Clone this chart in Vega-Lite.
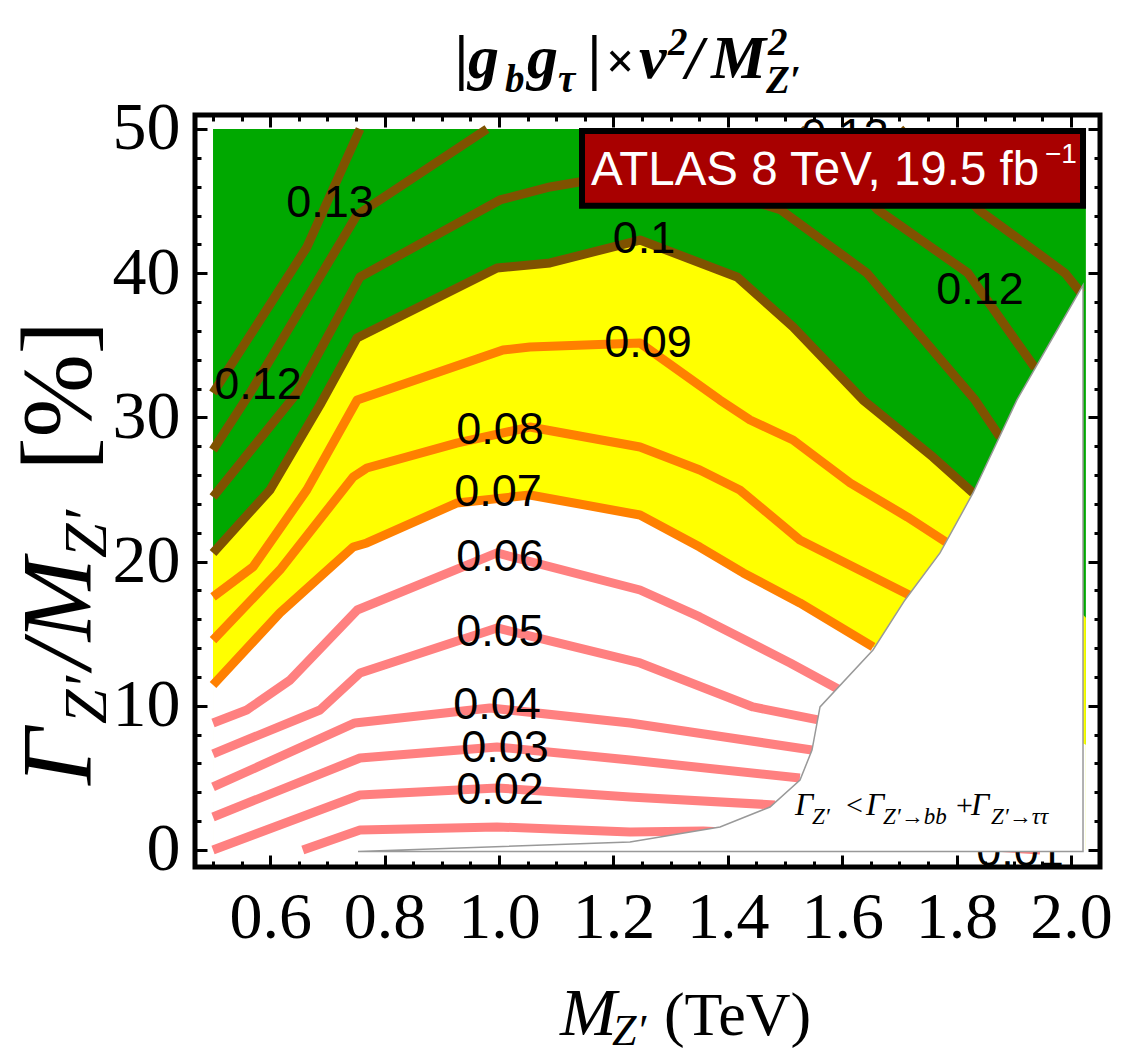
{
"$schema":"https://vega.github.io/schema/vega-lite/v6.json",
"width":905,"height":752,"autosize":"none",
"padding":{"left":195,"top":115,"right":32,"bottom":189},
"background":"white",
"config":{"view":{"stroke":"black","strokeWidth":5}},
"data":{"values":[{"one":1}]},
"datasets":{
"lines":[
{"level":"0.01","seg":"0.01","x":0.657,"y":0},{"level":"0.01","seg":"0.01","x":0.757,"y":1.39},{"level":"0.01","seg":"0.01","x":0.9965,"y":1.6},{"level":"0.01","seg":"0.01","x":1.229,"y":1.25},{"level":"0.01","seg":"0.01","x":1.357,"y":1.32},{"level":"0.01","seg":"0.01","x":1.526,"y":0.97},{"level":"0.01","seg":"0.01","x":1.7465,"y":0.49},{"level":"0.01","seg":"0.01","x":1.946,"y":0},
{"level":"0.02","seg":"0.02","x":0.5,"y":0},{"level":"0.02","seg":"0.02","x":0.757,"y":3.81},{"level":"0.02","seg":"0.02","x":0.9965,"y":4.3},{"level":"0.02","seg":"0.02","x":1.229,"y":3.68},{"level":"0.02","seg":"0.02","x":1.4825,"y":3.12},
{"level":"0.03","seg":"0.03","x":0.5,"y":2.29},{"level":"0.03","seg":"0.03","x":0.757,"y":6.38},{"level":"0.03","seg":"0.03","x":0.9965,"y":7.14},{"level":"0.03","seg":"0.03","x":1.229,"y":6.24},{"level":"0.03","seg":"0.03","x":1.526,"y":4.99},
{"level":"0.04","seg":"0.04","x":0.5,"y":4.37},{"level":"0.04","seg":"0.04","x":0.748,"y":8.81},{"level":"0.04","seg":"0.04","x":0.984,"y":9.85},{"level":"0.04","seg":"0.04","x":1.229,"y":8.81},{"level":"0.04","seg":"0.04","x":1.547,"y":6.93},
{"level":"0.05","seg":"0.05","x":0.5,"y":6.66},{"level":"0.05","seg":"0.05","x":0.559,"y":7.63},{"level":"0.05","seg":"0.05","x":0.687,"y":9.71},{"level":"0.05","seg":"0.05","x":0.757,"y":12.27},{"level":"0.05","seg":"0.05","x":0.9965,"y":15.4},{"level":"0.05","seg":"0.05","x":1.2465,"y":12.97},{"level":"0.05","seg":"0.05","x":1.444,"y":9.92},{"level":"0.05","seg":"0.05","x":1.558,"y":9.02},
{"level":"0.06","seg":"0.06","x":0.5,"y":8.81},{"level":"0.06","seg":"0.06","x":0.559,"y":9.71},{"level":"0.06","seg":"0.06","x":0.635,"y":11.79},{"level":"0.06","seg":"0.06","x":0.752,"y":16.64},{"level":"0.06","seg":"0.06","x":0.9965,"y":20.6},{"level":"0.06","seg":"0.06","x":1.2465,"y":18.03},{"level":"0.06","seg":"0.06","x":1.351,"y":16.16},{"level":"0.06","seg":"0.06","x":1.509,"y":12.97},{"level":"0.06","seg":"0.06","x":1.596,"y":11.1},
{"level":"0.07","seg":"0.07","x":0.5,"y":11.44},{"level":"0.07","seg":"0.07","x":0.617,"y":16.44},{"level":"0.07","seg":"0.07","x":0.745,"y":21.01},{"level":"0.07","seg":"0.07","x":0.769,"y":21.29},{"level":"0.07","seg":"0.07","x":0.926,"y":24.06},{"level":"0.07","seg":"0.07","x":1.054,"y":24.62},{"level":"0.07","seg":"0.07","x":1.2465,"y":23.23},{"level":"0.07","seg":"0.07","x":1.351,"y":21.01},{"level":"0.07","seg":"0.07","x":1.427,"y":19.21},{"level":"0.07","seg":"0.07","x":1.526,"y":17.13},{"level":"0.07","seg":"0.07","x":1.654,"y":14.08},
{"level":"0.08","seg":"0.08","x":0.5,"y":14.56},{"level":"0.08","seg":"0.08","x":0.617,"y":19.42},{"level":"0.08","seg":"0.08","x":0.745,"y":25.87},{"level":"0.08","seg":"0.08","x":0.769,"y":26.49},{"level":"0.08","seg":"0.08","x":0.926,"y":28.22},{"level":"0.08","seg":"0.08","x":1.054,"y":29.33},{"level":"0.08","seg":"0.08","x":1.2465,"y":27.95},{"level":"0.08","seg":"0.08","x":1.351,"y":26.35},{"level":"0.08","seg":"0.08","x":1.421,"y":24.97},{"level":"0.08","seg":"0.08","x":1.526,"y":21.5},{"level":"0.08","seg":"0.08","x":1.724,"y":17.55},
{"level":"0.09","seg":"0.09","x":0.5,"y":17.55},{"level":"0.09","seg":"0.09","x":0.57,"y":19.63},{"level":"0.09","seg":"0.09","x":0.664,"y":24.97},{"level":"0.09","seg":"0.09","x":0.752,"y":31.21},{"level":"0.09","seg":"0.09","x":1.007,"y":34.67},{"level":"0.09","seg":"0.09","x":1.054,"y":34.88},{"level":"0.09","seg":"0.09","x":1.2465,"y":35.16},{"level":"0.09","seg":"0.09","x":1.386,"y":31.21},{"level":"0.09","seg":"0.09","x":1.439,"y":29.82},{"level":"0.09","seg":"0.09","x":1.514,"y":28.43},{"level":"0.09","seg":"0.09","x":1.614,"y":25.45},{"level":"0.09","seg":"0.09","x":1.714,"y":23.09},{"level":"0.09","seg":"0.09","x":1.784,"y":21.29},
{"level":"0.1","seg":"0.1","x":0.5,"y":20.6},{"level":"0.1","seg":"0.1","x":0.5996,"y":24.97},{"level":"0.1","seg":"0.1","x":0.687,"y":30.86},{"level":"0.1","seg":"0.1","x":0.7517,"y":35.51},{"level":"0.1","seg":"0.1","x":0.9965,"y":40.36},{"level":"0.1","seg":"0.1","x":1.0891,"y":40.71},{"level":"0.1","seg":"0.1","x":1.2465,"y":42.3},{"level":"0.1","seg":"0.1","x":1.4161,"y":39.74},{"level":"0.1","seg":"0.1","x":1.514,"y":36.27},{"level":"0.1","seg":"0.1","x":1.6363,"y":31.21},{"level":"0.1","seg":"0.1","x":1.7587,"y":27.25},{"level":"0.1","seg":"0.1","x":1.8287,"y":24.76},
{"level":"0.11","seg":"0.11","x":0.5,"y":24.48},{"level":"0.11","seg":"0.11","x":0.6468,"y":31.69},{"level":"0.11","seg":"0.11","x":0.757,"y":39.74},{"level":"0.11","seg":"0.11","x":1.0017,"y":45.08},{"level":"0.11","seg":"0.11","x":1.0891,"y":45.98},{"level":"0.11","seg":"0.11","x":1.2115,"y":46.81},{"level":"0.11","seg":"0.11","x":1.3514,"y":46.12},{"level":"0.11","seg":"0.11","x":1.493,"y":44.38},{"level":"0.11","seg":"0.11","x":1.6433,"y":40.01},{"level":"0.11","seg":"0.11","x":1.8322,"y":31.21},{"level":"0.11","seg":"0.11","x":1.8759,"y":28.64},
{"level":"0.12","seg":"0.12L","x":0.5,"y":27.74},{"level":"0.12","seg":"0.12L","x":0.5647,"y":31.69},{"level":"0.12","seg":"0.12L","x":0.7517,"y":44.04},{"level":"0.12","seg":"0.12L","x":0.979,"y":50},
{"level":"0.12","seg":"0.12R","x":1.5262,"y":50},{"level":"0.12","seg":"0.12R","x":1.6626,"y":44.38},{"level":"0.12","seg":"0.12R","x":1.8199,"y":40.01},{"level":"0.12","seg":"0.12R","x":1.9371,"y":33.43},
{"level":"0.13","seg":"0.13L","x":0.5,"y":31.69},{"level":"0.13","seg":"0.13L","x":0.6643,"y":41.82},{"level":"0.13","seg":"0.13L","x":0.757,"y":50},
{"level":"0.13","seg":"0.13R","x":1.701,"y":50},{"level":"0.13","seg":"0.13R","x":1.8391,"y":44.38},{"level":"0.13","seg":"0.13R","x":1.9895,"y":40.01},{"level":"0.13","seg":"0.13R","x":2.018,"y":38.6}
],
"fill10":[{"x":0.5,"y":20.6},{"x":0.5996,"y":24.97},{"x":0.687,"y":30.86},{"x":0.7517,"y":35.51},{"x":0.9965,"y":40.36},{"x":1.0891,"y":40.71},{"x":1.2465,"y":42.3},{"x":1.4161,"y":39.74},{"x":1.514,"y":36.27},{"x":1.6363,"y":31.21},{"x":1.7587,"y":27.25},{"x":1.8287,"y":24.76},{"x":2.026,"y":16.1}],
"fill07":[{"x":0.5,"y":11.44},{"x":0.617,"y":16.44},{"x":0.745,"y":21.01},{"x":0.769,"y":21.29},{"x":0.926,"y":24.06},{"x":1.054,"y":24.62},{"x":1.2465,"y":23.23},{"x":1.351,"y":21.01},{"x":1.427,"y":19.21},{"x":1.526,"y":17.13},{"x":1.654,"y":14.08},{"x":2.026,"y":7.3}],
"labels":[{"x":0.7045,"y":44.87,"t":"0.13"},{"x":0.5786,"y":32.25,"t":"0.12"},{"x":1.2535,"y":42.37,"t":"0.1"},{"x":1.841,"y":38.83,"t":"0.12"},{"x":1.2605,"y":35.16,"t":"0.09"},{"x":1.0017,"y":29.13,"t":"0.08"},{"x":0.9982,"y":24.83,"t":"0.07"},{"x":1.0017,"y":20.32,"t":"0.06"},{"x":1.0017,"y":15.12,"t":"0.05"},{"x":0.9965,"y":10.06,"t":"0.04"},{"x":1.0105,"y":7.07,"t":"0.03"},{"x":1.0017,"y":4.16,"t":"0.02"},{"x":1.605,"y":49.5,"t":"0.13"},{"x":1.911,"y":-0.14,"t":"0.01"}],
"excl":[{"x":0.7535,"y":-0.1},{"x":1.229,"y":0.55},{"x":1.3864,"y":1.6},{"x":1.4738,"y":2.98},{"x":1.5262,"y":4.85},{"x":1.5472,"y":6.93},{"x":1.5612,"y":9.92},{"x":1.6538,"y":13.87},{"x":1.7098,"y":17.34},{"x":1.771,"y":20.6},{"x":1.8287,"y":24.76},{"x":1.9055,"y":31.21},{"x":2.021,"y":39.18}]
},
"resolve":{"axis":{"x":"independent","y":"independent"}},
"layer":[
{"mark":{"type":"rect","color":"#00A800"},
 "encoding":{"x":{"datum":0.5,"type":"quantitative","scale":{"domain":[0.4685,2.0507],"nice":false,"zero":false},"axis":null},"x2":{"datum":2.026},
 "y":{"datum":0,"type":"quantitative","scale":{"domain":[-1.18,50.97],"nice":false,"zero":false},"axis":null},"y2":{"datum":50}}},
{"data":{"name":"fill10"},"mark":{"type":"area","color":"#FFFF00"},
 "encoding":{"x":{"field":"x","type":"quantitative","scale":{"domain":[0.4685,2.0507],"nice":false,"zero":false},
   "axis":{"orient":"bottom","values":[0.5,0.55,0.6,0.65,0.7,0.75,0.8,0.85,0.9,0.95,1,1.05,1.1,1.15,1.2,1.25,1.3,1.35,1.4,1.45,1.5,1.55,1.6,1.65,1.7,1.75,1.8,1.85,1.9,1.95,2],
   "labelExpr":"round(datum.value*20)%4==0 ? format(datum.value,'.1f') : ''",
   "tickSize":{"condition":{"test":"round(datum.value*20)%4==0","value":-12},"value":-6},
   "tickWidth":3,"tickColor":"black","domain":false,"grid":false,"labelFont":"Liberation Serif","labelFontSize":66,"labelColor":"black","labelPadding":30,"labelOverlap":false,"labelFlush":false,"labelBound":false,"title":null}},
  "y":{"field":"y","type":"quantitative","scale":{"domain":[-1.18,50.97],"nice":false,"zero":false},
   "axis":{"orient":"left","values":[0,2,4,6,8,10,12,14,16,18,20,22,24,26,28,30,32,34,36,38,40,42,44,46,48,50],
   "labelExpr":"datum.value%10==0 ? datum.label : ''",
   "tickSize":{"condition":{"test":"datum.value%10==0","value":-12},"value":-6},
   "tickWidth":3,"tickColor":"black","domain":false,"grid":false,"labelFont":"Liberation Serif","labelFontSize":68,"labelColor":"black","labelPadding":27,"labelOverlap":false,"labelFlush":false,"labelBound":false,"title":null}},
  "y2":{"datum":0}}},
{"data":{"name":"fill07"},"mark":{"type":"area","color":"#FFFFFF"},
 "encoding":{"x":{"field":"x","type":"quantitative","scale":{"domain":[0.4685,2.0507],"nice":false,"zero":false},
   "axis":{"orient":"top","values":[0.5,0.55,0.6,0.65,0.7,0.75,0.8,0.85,0.9,0.95,1,1.05,1.1,1.15,1.2,1.25,1.3,1.35,1.4,1.45,1.5,1.55,1.6,1.65,1.7,1.75,1.8,1.85,1.9,1.95,2],
   "labels":false,"tickSize":{"condition":{"test":"round(datum.value*20)%4==0","value":-12},"value":-6},"tickWidth":3,"tickColor":"black","domain":false,"grid":false,"title":null}},
  "y":{"field":"y","type":"quantitative","scale":{"domain":[-1.18,50.97],"nice":false,"zero":false},
   "axis":{"orient":"right","values":[0,2,4,6,8,10,12,14,16,18,20,22,24,26,28,30,32,34,36,38,40,42,44,46,48,50],
   "labels":false,"tickSize":{"condition":{"test":"datum.value%10==0","value":-12},"value":-6},"tickWidth":3,"tickColor":"black","domain":false,"grid":false,"title":null}},
  "y2":{"datum":0}}},
{"data":{"name":"lines"},"mark":{"type":"line","strokeWidth":9,"strokeCap":"butt","strokeJoin":"round"},
 "encoding":{"x":{"field":"x","type":"quantitative","scale":{"domain":[0.4685,2.0507],"nice":false,"zero":false},"axis":null},
  "y":{"field":"y","type":"quantitative","scale":{"domain":[-1.18,50.97],"nice":false,"zero":false},"axis":null},
  "detail":{"field":"seg"},
  "color":{"field":"level","type":"nominal","legend":null,"scale":{"domain":["0.01","0.02","0.03","0.04","0.05","0.06","0.07","0.08","0.09","0.1","0.11","0.12","0.13"],"range":["#FF8080","#FF8080","#FF8080","#FF8080","#FF8080","#FF8080","#FF8000","#FF8000","#FF8000","#7F5200","#7F5200","#7F5200","#7F5200"]}}}},
{"data":{"name":"labels"},"mark":{"type":"text","font":"Liberation Sans","fontSize":45,"color":"black","align":"center","baseline":"middle"},
 "encoding":{"x":{"field":"x","type":"quantitative","scale":{"domain":[0.4685,2.0507],"nice":false,"zero":false},"axis":null},
  "y":{"field":"y","type":"quantitative","scale":{"domain":[-1.18,50.97],"nice":false,"zero":false},"axis":null},
  "text":{"field":"t"}}},
{"data":{"name":"excl"},"mark":{"type":"area","color":"#FFFFFF","stroke":"#999999","strokeWidth":1.5},
 "encoding":{"x":{"field":"x","type":"quantitative","scale":{"domain":[0.4685,2.0507],"nice":false,"zero":false},"axis":null},
  "y":{"field":"y","type":"quantitative","scale":{"domain":[-1.18,50.97],"nice":false,"zero":false},"axis":null},
  "y2":{"datum":-0.1}}},
{"mark":{"type":"text","text":"Γ","font":"Liberation Serif","fontStyle":"italic","fontSize":32,"align":"left","baseline":"alphabetic","color":"black"},
 "encoding":{"x":{"datum":1.5175,"type":"quantitative","scale":{"domain":[0.4685,2.0507],"nice":false,"zero":false},"axis":null},"y":{"datum":2.43,"type":"quantitative","scale":{"domain":[-1.18,50.97],"nice":false,"zero":false},"axis":null}}},
{"mark":{"type":"text","text":"Z′","font":"Liberation Serif","fontStyle":"italic","fontSize":23,"align":"left","baseline":"alphabetic","color":"black"},
 "encoding":{"x":{"datum":1.5472,"type":"quantitative","scale":{"domain":[0.4685,2.0507],"nice":false,"zero":false},"axis":null},"y":{"datum":1.8,"type":"quantitative","scale":{"domain":[-1.18,50.97],"nice":false,"zero":false},"axis":null}}},
{"mark":{"type":"text","text":"<","font":"Liberation Serif","fontSize":30,"align":"left","baseline":"alphabetic","color":"black"},
 "encoding":{"x":{"datum":1.6066,"type":"quantitative","scale":{"domain":[0.4685,2.0507],"nice":false,"zero":false},"axis":null},"y":{"datum":2.43,"type":"quantitative","scale":{"domain":[-1.18,50.97],"nice":false,"zero":false},"axis":null}}},
{"mark":{"type":"text","text":"Γ","font":"Liberation Serif","fontStyle":"italic","fontSize":32,"align":"left","baseline":"alphabetic","color":"black"},
 "encoding":{"x":{"datum":1.6416,"type":"quantitative","scale":{"domain":[0.4685,2.0507],"nice":false,"zero":false},"axis":null},"y":{"datum":2.43,"type":"quantitative","scale":{"domain":[-1.18,50.97],"nice":false,"zero":false},"axis":null}}},
{"mark":{"type":"text","text":"Z′→bb","font":"Liberation Serif","fontStyle":"italic","fontSize":23,"align":"left","baseline":"alphabetic","color":"black"},
 "encoding":{"x":{"datum":1.6713,"type":"quantitative","scale":{"domain":[0.4685,2.0507],"nice":false,"zero":false},"axis":null},"y":{"datum":1.8,"type":"quantitative","scale":{"domain":[-1.18,50.97],"nice":false,"zero":false},"axis":null}}},
{"mark":{"type":"text","text":"+","font":"Liberation Serif","fontSize":30,"align":"left","baseline":"alphabetic","color":"black"},
 "encoding":{"x":{"datum":1.799,"type":"quantitative","scale":{"domain":[0.4685,2.0507],"nice":false,"zero":false},"axis":null},"y":{"datum":2.43,"type":"quantitative","scale":{"domain":[-1.18,50.97],"nice":false,"zero":false},"axis":null}}},
{"mark":{"type":"text","text":"Γ","font":"Liberation Serif","fontStyle":"italic","fontSize":32,"align":"left","baseline":"alphabetic","color":"black"},
 "encoding":{"x":{"datum":1.8251,"type":"quantitative","scale":{"domain":[0.4685,2.0507],"nice":false,"zero":false},"axis":null},"y":{"datum":2.43,"type":"quantitative","scale":{"domain":[-1.18,50.97],"nice":false,"zero":false},"axis":null}}},
{"mark":{"type":"text","text":"Z′→ττ","font":"Liberation Serif","fontStyle":"italic","fontSize":23,"align":"left","baseline":"alphabetic","color":"black"},
 "encoding":{"x":{"datum":1.8601,"type":"quantitative","scale":{"domain":[0.4685,2.0507],"nice":false,"zero":false},"axis":null},"y":{"datum":1.8,"type":"quantitative","scale":{"domain":[-1.18,50.97],"nice":false,"zero":false},"axis":null}}},
{"mark":{"type":"rect","color":"#A80000","stroke":"black","strokeWidth":6},
 "encoding":{"x":{"datum":1.1451,"type":"quantitative","scale":{"domain":[0.4685,2.0507],"nice":false,"zero":false},"axis":null},"x2":{"datum":2.021},
  "y":{"datum":49.86,"type":"quantitative","scale":{"domain":[-1.18,50.97],"nice":false,"zero":false},"axis":null},"y2":{"datum":44.67}}},
{"mark":{"type":"text","text":"ATLAS 8 TeV, 19.5 fb","font":"Liberation Sans","fontSize":47.5,"align":"left","baseline":"alphabetic","color":"white"},
 "encoding":{"x":{"datum":1.161,"type":"quantitative","scale":{"domain":[0.4685,2.0507],"nice":false,"zero":false},"axis":null},"y":{"datum":46.12,"type":"quantitative","scale":{"domain":[-1.18,50.97],"nice":false,"zero":false},"axis":null}}},
{"mark":{"type":"text","text":"−1","font":"Liberation Sans","fontSize":28,"align":"left","baseline":"alphabetic","color":"white"},
 "encoding":{"x":{"datum":1.9545,"type":"quantitative","scale":{"domain":[0.4685,2.0507],"nice":false,"zero":false},"axis":null},"y":{"datum":47.64,"type":"quantitative","scale":{"domain":[-1.18,50.97],"nice":false,"zero":false},"axis":null}}},
{"mark":{"type":"text","text":"|","font":"Liberation Serif","fontWeight":"bold","fontStyle":"italic","fontSize":62,"align":"left","baseline":"alphabetic","color":"black"},
 "encoding":{"x":{"datum":0.9231,"type":"quantitative","scale":{"domain":[0.4685,2.0507],"nice":false,"zero":false},"axis":null},"y":{"datum":53.54,"type":"quantitative","scale":{"domain":[-1.18,50.97],"nice":false,"zero":false},"axis":null}}},
{"mark":{"type":"text","text":"g","font":"Liberation Serif","fontWeight":"bold","fontStyle":"italic","fontSize":62,"align":"left","baseline":"alphabetic","color":"black"},
 "encoding":{"x":{"datum":0.9458,"type":"quantitative","scale":{"domain":[0.4685,2.0507],"nice":false,"zero":false},"axis":null},"y":{"datum":53.54,"type":"quantitative","scale":{"domain":[-1.18,50.97],"nice":false,"zero":false},"axis":null}}},
{"mark":{"type":"text","text":"b","font":"Liberation Serif","fontWeight":"bold","fontStyle":"italic","fontSize":39,"align":"left","baseline":"alphabetic","color":"black"},
 "encoding":{"x":{"datum":1.0105,"type":"quantitative","scale":{"domain":[0.4685,2.0507],"nice":false,"zero":false},"axis":null},"y":{"datum":52.57,"type":"quantitative","scale":{"domain":[-1.18,50.97],"nice":false,"zero":false},"axis":null}}},
{"mark":{"type":"text","text":"g","font":"Liberation Serif","fontWeight":"bold","fontStyle":"italic","fontSize":62,"align":"left","baseline":"alphabetic","color":"black"},
 "encoding":{"x":{"datum":1.049,"type":"quantitative","scale":{"domain":[0.4685,2.0507],"nice":false,"zero":false},"axis":null},"y":{"datum":53.54,"type":"quantitative","scale":{"domain":[-1.18,50.97],"nice":false,"zero":false},"axis":null}}},
{"mark":{"type":"text","text":"τ","font":"Liberation Serif","fontWeight":"bold","fontStyle":"italic","fontSize":39,"align":"left","baseline":"alphabetic","color":"black"},
 "encoding":{"x":{"datum":1.1031,"type":"quantitative","scale":{"domain":[0.4685,2.0507],"nice":false,"zero":false},"axis":null},"y":{"datum":52.57,"type":"quantitative","scale":{"domain":[-1.18,50.97],"nice":false,"zero":false},"axis":null}}},
{"mark":{"type":"text","text":"|","font":"Liberation Serif","fontWeight":"bold","fontStyle":"italic","fontSize":62,"align":"left","baseline":"alphabetic","color":"black"},
 "encoding":{"x":{"datum":1.1556,"type":"quantitative","scale":{"domain":[0.4685,2.0507],"nice":false,"zero":false},"axis":null},"y":{"datum":53.54,"type":"quantitative","scale":{"domain":[-1.18,50.97],"nice":false,"zero":false},"axis":null}}},
{"mark":{"type":"text","text":"×","font":"Liberation Serif","fontWeight":"bold","fontSize":50,"align":"left","baseline":"alphabetic","color":"black"},
 "encoding":{"x":{"datum":1.1871,"type":"quantitative","scale":{"domain":[0.4685,2.0507],"nice":false,"zero":false},"axis":null},"y":{"datum":53.54,"type":"quantitative","scale":{"domain":[-1.18,50.97],"nice":false,"zero":false},"axis":null}}},
{"mark":{"type":"text","text":"v","font":"Liberation Serif","fontWeight":"bold","fontStyle":"italic","fontSize":62,"align":"left","baseline":"alphabetic","color":"black"},
 "encoding":{"x":{"datum":1.2447,"type":"quantitative","scale":{"domain":[0.4685,2.0507],"nice":false,"zero":false},"axis":null},"y":{"datum":53.54,"type":"quantitative","scale":{"domain":[-1.18,50.97],"nice":false,"zero":false},"axis":null}}},
{"mark":{"type":"text","text":"2","font":"Liberation Serif","fontWeight":"bold","fontStyle":"italic","fontSize":39,"align":"left","baseline":"alphabetic","color":"black"},
 "encoding":{"x":{"datum":1.2955,"type":"quantitative","scale":{"domain":[0.4685,2.0507],"nice":false,"zero":false},"axis":null},"y":{"datum":55.13,"type":"quantitative","scale":{"domain":[-1.18,50.97],"nice":false,"zero":false},"axis":null}}},
{"mark":{"type":"text","text":"/","font":"Liberation Serif","fontWeight":"bold","fontStyle":"italic","fontSize":62,"align":"left","baseline":"alphabetic","color":"black"},
 "encoding":{"x":{"datum":1.3269,"type":"quantitative","scale":{"domain":[0.4685,2.0507],"nice":false,"zero":false},"axis":null},"y":{"datum":53.54,"type":"quantitative","scale":{"domain":[-1.18,50.97],"nice":false,"zero":false},"axis":null}}},
{"mark":{"type":"text","text":"M","font":"Liberation Serif","fontWeight":"bold","fontStyle":"italic","fontSize":62,"align":"left","baseline":"alphabetic","color":"black"},
 "encoding":{"x":{"datum":1.3706,"type":"quantitative","scale":{"domain":[0.4685,2.0507],"nice":false,"zero":false},"axis":null},"y":{"datum":53.54,"type":"quantitative","scale":{"domain":[-1.18,50.97],"nice":false,"zero":false},"axis":null}}},
{"mark":{"type":"text","text":"2","font":"Liberation Serif","fontWeight":"bold","fontStyle":"italic","fontSize":39,"align":"left","baseline":"alphabetic","color":"black"},
 "encoding":{"x":{"datum":1.4703,"type":"quantitative","scale":{"domain":[0.4685,2.0507],"nice":false,"zero":false},"axis":null},"y":{"datum":55.13,"type":"quantitative","scale":{"domain":[-1.18,50.97],"nice":false,"zero":false},"axis":null}}},
{"mark":{"type":"text","text":"Z′","font":"Liberation Serif","fontWeight":"bold","fontStyle":"italic","fontSize":39,"align":"left","baseline":"alphabetic","color":"black"},
 "encoding":{"x":{"datum":1.4668,"type":"quantitative","scale":{"domain":[0.4685,2.0507],"nice":false,"zero":false},"axis":null},"y":{"datum":52.5,"type":"quantitative","scale":{"domain":[-1.18,50.97],"nice":false,"zero":false},"axis":null}}},
{"mark":{"type":"text","text":"M","font":"Liberation Serif","fontStyle":"italic","fontSize":68,"align":"left","baseline":"alphabetic","color":"black"},
 "encoding":{"x":{"datum":1.1066,"type":"quantitative","scale":{"domain":[0.4685,2.0507],"nice":false,"zero":false},"axis":null},"y":{"datum":-12.83,"type":"quantitative","scale":{"domain":[-1.18,50.97],"nice":false,"zero":false},"axis":null}}},
{"mark":{"type":"text","text":"Z′","font":"Liberation Serif","fontStyle":"italic","fontSize":44,"align":"left","baseline":"alphabetic","color":"black"},
 "encoding":{"x":{"datum":1.1975,"type":"quantitative","scale":{"domain":[0.4685,2.0507],"nice":false,"zero":false},"axis":null},"y":{"datum":-13.52,"type":"quantitative","scale":{"domain":[-1.18,50.97],"nice":false,"zero":false},"axis":null}}},
{"mark":{"type":"text","text":"(TeV)","font":"Liberation Serif","fontSize":62,"align":"left","baseline":"alphabetic","color":"black"},
 "encoding":{"x":{"datum":1.2884,"type":"quantitative","scale":{"domain":[0.4685,2.0507],"nice":false,"zero":false},"axis":null},"y":{"datum":-12.83,"type":"quantitative","scale":{"domain":[-1.18,50.97],"nice":false,"zero":false},"axis":null}}},
{"mark":{"type":"text","text":"Γ","font":"Liberation Serif","fontStyle":"italic","fontSize":100,"angle":270,"align":"left","baseline":"alphabetic","color":"black"},
 "encoding":{"x":{"datum":0.2849,"type":"quantitative","scale":{"domain":[0.4685,2.0507],"nice":false,"zero":false},"axis":null},"y":{"datum":4.51,"type":"quantitative","scale":{"domain":[-1.18,50.97],"nice":false,"zero":false},"axis":null}}},
{"mark":{"type":"text","text":"Z′","font":"Liberation Serif","fontStyle":"italic","fontSize":62,"angle":270,"align":"left","baseline":"alphabetic","color":"black"},
 "encoding":{"x":{"datum":0.3129,"type":"quantitative","scale":{"domain":[0.4685,2.0507],"nice":false,"zero":false},"axis":null},"y":{"datum":8.74,"type":"quantitative","scale":{"domain":[-1.18,50.97],"nice":false,"zero":false},"axis":null}}},
{"mark":{"type":"text","text":"/M","font":"Liberation Serif","fontStyle":"italic","fontSize":100,"angle":270,"align":"left","baseline":"alphabetic","color":"black"},
 "encoding":{"x":{"datum":0.2849,"type":"quantitative","scale":{"domain":[0.4685,2.0507],"nice":false,"zero":false},"axis":null},"y":{"datum":12.55,"type":"quantitative","scale":{"domain":[-1.18,50.97],"nice":false,"zero":false},"axis":null}}},
{"mark":{"type":"text","text":"Z′","font":"Liberation Serif","fontStyle":"italic","fontSize":62,"angle":270,"align":"left","baseline":"alphabetic","color":"black"},
 "encoding":{"x":{"datum":0.3129,"type":"quantitative","scale":{"domain":[0.4685,2.0507],"nice":false,"zero":false},"axis":null},"y":{"datum":20.25,"type":"quantitative","scale":{"domain":[-1.18,50.97],"nice":false,"zero":false},"axis":null}}},
{"mark":{"type":"text","text":"[%]","font":"Liberation Serif","fontSize":100,"angle":270,"align":"left","baseline":"alphabetic","color":"black"},
 "encoding":{"x":{"datum":0.2849,"type":"quantitative","scale":{"domain":[0.4685,2.0507],"nice":false,"zero":false},"axis":null},"y":{"datum":26.3,"type":"quantitative","scale":{"domain":[-1.18,50.97],"nice":false,"zero":false},"axis":null}}}
]
}
